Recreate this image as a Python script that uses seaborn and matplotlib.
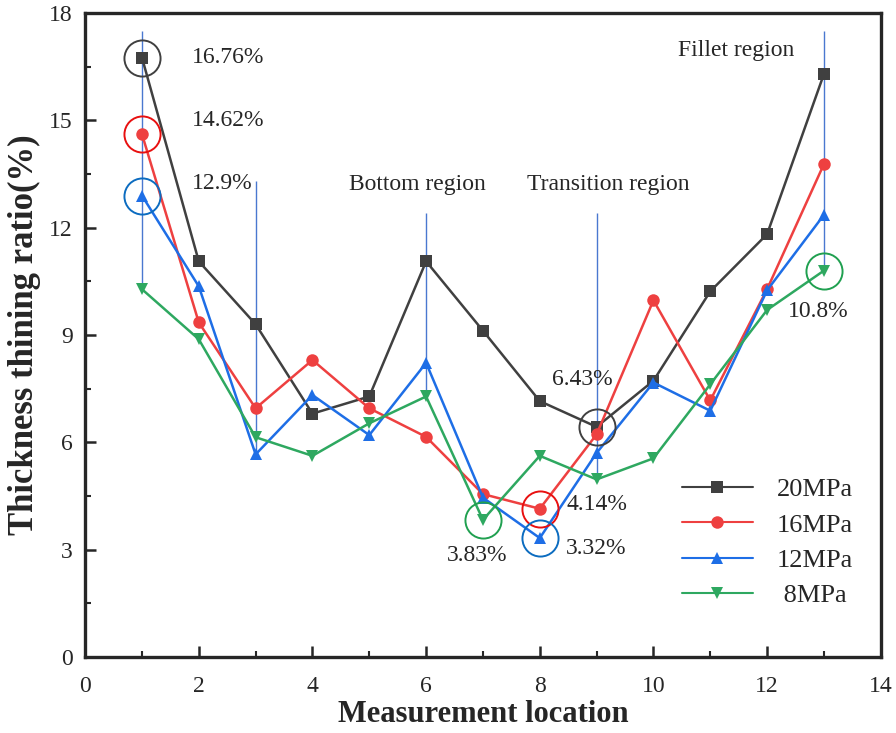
import pandas as pd
import matplotlib.pyplot as plt
from matplotlib.ticker import MultipleLocator
import seaborn as sns

# Data
locations = list(range(1, 14))
p20 = [16.76, 11.06, 9.30, 6.80, 7.28, 11.06, 9.12, 7.15, 6.43, 7.72, 10.22, 11.82, 16.30]
p16 = [14.62, 9.35, 6.95, 8.30, 6.95, 6.15, 4.55, 4.14, 6.22, 9.97, 7.17, 10.28, 13.78]
p12 = [12.90, 10.36, 5.66, 7.32, 6.20, 8.22, 4.45, 3.32, 5.70, 7.67, 6.88, 10.25, 12.36]
p8 = [10.28, 8.88, 6.14, 5.62, 6.53, 7.28, 3.83, 5.62, 4.96, 5.55, 7.62, 9.70, 10.80]
labels = ['20MPa', '16MPa', '12MPa', ' 8MPa']

colors = ['#404040', '#EE4040', '#1E6EE6', '#2EA860']
ring_colors = ['#404040', '#E81010', '#0C6CC0', '#20A050']
markers = ['s', 'o', '^', 'v']

# Build a long table for seaborn
df = pd.DataFrame({
    'location': locations * 4,
    'ratio': p20 + p16 + p12 + p8,
    'pressure': [lab for lab in labels for _ in locations],
})

sns.set_style('ticks')
plt.rcParams['font.family'] = ['Liberation Serif', 'DejaVu Serif']

fig, ax = plt.subplots(figsize=(8.96, 7.33), dpi=100)
fig.subplots_adjust(left=0.095, right=0.983, top=0.982, bottom=0.104)

# region guide lines
guide_x = [1, 3, 6, 9, 13]
guide_top = [17.5, 13.3, 12.4, 12.4, 17.5]
guide_bottom = [10.3, 5.7, 7.3, 4.9, 10.8]
ax.vlines(guide_x, guide_bottom, guide_top, color='#4A78D0', lw=1.0, zorder=1)

sns.lineplot(data=df, x='location', y='ratio', hue='pressure', style='pressure',
             palette=colors, markers=markers, dashes=False, markersize=9,
             markeredgewidth=0, linewidth=1.8, ax=ax, zorder=3)

# highlight rings around key points
series = [p20, p16, p12, p8]
ring_pts = [(0, 0), (1, 0), (2, 0), (0, 8), (1, 7), (2, 7), (3, 6), (3, 12)]
for s, i in ring_pts:
    ax.plot(locations[i], series[s][i], marker='o', markersize=26, mfc='none',
            mec=ring_colors[s], mew=1.4, zorder=4)

# annotations
fs = 17
ax.text(1.88, 16.76, '16.76%', fontsize=fs, va='center')
ax.text(1.88, 15.0, '14.62%', fontsize=fs, va='center')
ax.text(1.88, 13.25, '12.9%', fontsize=fs, va='center')
ax.text(5.85, 13.2, 'Bottom region', fontsize=fs, ha='center', va='center')
ax.text(9.2, 13.2, 'Transition region', fontsize=fs, ha='center', va='center')
ax.text(11.45, 16.95, 'Fillet region', fontsize=fs, ha='center', va='center')
ax.text(8.75, 7.75, '6.43%', fontsize=fs, ha='center', va='center')
ax.text(9.0, 4.26, '4.14%', fontsize=fs, ha='center', va='center')
ax.text(9.0, 3.03, '3.32%', fontsize=fs, ha='center', va='center')
ax.text(6.9, 2.83, '3.83%', fontsize=fs, ha='center', va='center')
ax.text(12.9, 9.66, '10.8%', fontsize=fs, ha='center', va='center')

ax.set_xlim(0, 14)
ax.set_ylim(0, 18)
ax.set_xticks(range(0, 15, 2))
ax.set_yticks(range(0, 19, 3))
ax.xaxis.set_minor_locator(MultipleLocator(1))
ax.yaxis.set_minor_locator(MultipleLocator(1.5))
ax.tick_params(which='major', direction='in', length=8, width=1.8, labelsize=17)
ax.tick_params(axis='x', which='major', pad=14)
ax.tick_params(axis='y', which='major', pad=9)
ax.tick_params(which='minor', direction='in', length=4, width=1.5)
ax.set_xlabel('Measurement location', fontsize=22, fontweight='bold', labelpad=2)
ax.set_ylabel('Thickness thining ratio(%)', fontsize=25, fontweight='bold', labelpad=6)
for sp in ax.spines.values():
    sp.set_linewidth(2.4)
    sp.set_visible(True)

leg = ax.legend(loc='lower right', bbox_to_anchor=(0.995, 0.04), frameon=False,
                fontsize=19, handlelength=2.7, labelspacing=0.45, handletextpad=0.9)
for h in leg.get_lines():
    h.set_linewidth(1.5)
leg.set_title(None)

fig.savefig('out.png', dpi=100)
